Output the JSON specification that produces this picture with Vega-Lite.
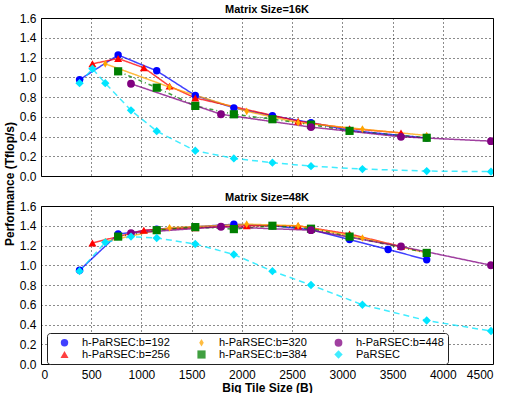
{
  "$schema": "https://vega.github.io/schema/vega-lite/v6.json",
  "padding": {"left": 3, "top": 3, "right": 0, "bottom": 0},
  "data": {"values": [
    {"p":"Matrix Size=16K","s":"h-PaRSEC:b=192","x":384,"y":0.975},
    {"p":"Matrix Size=16K","s":"h-PaRSEC:b=192","x":768,"y":1.225},
    {"p":"Matrix Size=16K","s":"h-PaRSEC:b=192","x":1152,"y":1.065},
    {"p":"Matrix Size=16K","s":"h-PaRSEC:b=192","x":1536,"y":0.815},
    {"p":"Matrix Size=16K","s":"h-PaRSEC:b=192","x":1920,"y":0.69},
    {"p":"Matrix Size=16K","s":"h-PaRSEC:b=192","x":2304,"y":0.61},
    {"p":"Matrix Size=16K","s":"h-PaRSEC:b=192","x":2688,"y":0.54},
    {"p":"Matrix Size=16K","s":"h-PaRSEC:b=192","x":3072,"y":0.462},
    {"p":"Matrix Size=16K","s":"h-PaRSEC:b=192","x":3840,"y":0.385},
    {"p":"Matrix Size=16K","s":"h-PaRSEC:b=256","x":512,"y":1.136},
    {"p":"Matrix Size=16K","s":"h-PaRSEC:b=256","x":768,"y":1.19},
    {"p":"Matrix Size=16K","s":"h-PaRSEC:b=256","x":1024,"y":1.096},
    {"p":"Matrix Size=16K","s":"h-PaRSEC:b=256","x":1280,"y":0.91},
    {"p":"Matrix Size=16K","s":"h-PaRSEC:b=256","x":1536,"y":0.79},
    {"p":"Matrix Size=16K","s":"h-PaRSEC:b=256","x":2560,"y":0.555},
    {"p":"Matrix Size=16K","s":"h-PaRSEC:b=256","x":3072,"y":0.48},
    {"p":"Matrix Size=16K","s":"h-PaRSEC:b=256","x":3584,"y":0.437},
    {"p":"Matrix Size=16K","s":"h-PaRSEC:b=320","x":640,"y":1.136},
    {"p":"Matrix Size=16K","s":"h-PaRSEC:b=320","x":1280,"y":0.9},
    {"p":"Matrix Size=16K","s":"h-PaRSEC:b=320","x":2048,"y":0.655},
    {"p":"Matrix Size=16K","s":"h-PaRSEC:b=320","x":2560,"y":0.54},
    {"p":"Matrix Size=16K","s":"h-PaRSEC:b=320","x":3200,"y":0.475},
    {"p":"Matrix Size=16K","s":"h-PaRSEC:b=320","x":3840,"y":0.41},
    {"p":"Matrix Size=16K","s":"h-PaRSEC:b=384","x":768,"y":1.06},
    {"p":"Matrix Size=16K","s":"h-PaRSEC:b=384","x":1152,"y":0.894},
    {"p":"Matrix Size=16K","s":"h-PaRSEC:b=384","x":1536,"y":0.71},
    {"p":"Matrix Size=16K","s":"h-PaRSEC:b=384","x":1920,"y":0.625},
    {"p":"Matrix Size=16K","s":"h-PaRSEC:b=384","x":2304,"y":0.575},
    {"p":"Matrix Size=16K","s":"h-PaRSEC:b=384","x":2688,"y":0.52},
    {"p":"Matrix Size=16K","s":"h-PaRSEC:b=384","x":3072,"y":0.457},
    {"p":"Matrix Size=16K","s":"h-PaRSEC:b=384","x":3840,"y":0.387},
    {"p":"Matrix Size=16K","s":"h-PaRSEC:b=448","x":896,"y":0.934},
    {"p":"Matrix Size=16K","s":"h-PaRSEC:b=448","x":1792,"y":0.625},
    {"p":"Matrix Size=16K","s":"h-PaRSEC:b=448","x":2688,"y":0.495},
    {"p":"Matrix Size=16K","s":"h-PaRSEC:b=448","x":3584,"y":0.397},
    {"p":"Matrix Size=16K","s":"h-PaRSEC:b=448","x":4480,"y":0.353},
    {"p":"Matrix Size=16K","s":"PaRSEC","x":384,"y":0.94},
    {"p":"Matrix Size=16K","s":"PaRSEC","x":512,"y":1.086},
    {"p":"Matrix Size=16K","s":"PaRSEC","x":640,"y":0.94},
    {"p":"Matrix Size=16K","s":"PaRSEC","x":896,"y":0.665},
    {"p":"Matrix Size=16K","s":"PaRSEC","x":1152,"y":0.454},
    {"p":"Matrix Size=16K","s":"PaRSEC","x":1536,"y":0.256},
    {"p":"Matrix Size=16K","s":"PaRSEC","x":1920,"y":0.178},
    {"p":"Matrix Size=16K","s":"PaRSEC","x":2304,"y":0.135},
    {"p":"Matrix Size=16K","s":"PaRSEC","x":2688,"y":0.1},
    {"p":"Matrix Size=16K","s":"PaRSEC","x":3200,"y":0.07},
    {"p":"Matrix Size=16K","s":"PaRSEC","x":3840,"y":0.05},
    {"p":"Matrix Size=16K","s":"PaRSEC","x":4480,"y":0.044},
    {"p":"Matrix Size=48K","s":"h-PaRSEC:b=192","x":384,"y":0.949},
    {"p":"Matrix Size=48K","s":"h-PaRSEC:b=192","x":768,"y":1.316},
    {"p":"Matrix Size=48K","s":"h-PaRSEC:b=192","x":1152,"y":1.366},
    {"p":"Matrix Size=48K","s":"h-PaRSEC:b=192","x":1536,"y":1.39},
    {"p":"Matrix Size=48K","s":"h-PaRSEC:b=192","x":1920,"y":1.415},
    {"p":"Matrix Size=48K","s":"h-PaRSEC:b=192","x":2304,"y":1.4},
    {"p":"Matrix Size=48K","s":"h-PaRSEC:b=192","x":2688,"y":1.36},
    {"p":"Matrix Size=48K","s":"h-PaRSEC:b=192","x":3072,"y":1.26},
    {"p":"Matrix Size=48K","s":"h-PaRSEC:b=192","x":3456,"y":1.16},
    {"p":"Matrix Size=48K","s":"h-PaRSEC:b=192","x":3840,"y":1.055},
    {"p":"Matrix Size=48K","s":"h-PaRSEC:b=256","x":512,"y":1.226},
    {"p":"Matrix Size=48K","s":"h-PaRSEC:b=256","x":1024,"y":1.355},
    {"p":"Matrix Size=48K","s":"h-PaRSEC:b=256","x":1536,"y":1.38},
    {"p":"Matrix Size=48K","s":"h-PaRSEC:b=256","x":2048,"y":1.4},
    {"p":"Matrix Size=48K","s":"h-PaRSEC:b=256","x":2560,"y":1.4},
    {"p":"Matrix Size=48K","s":"h-PaRSEC:b=256","x":3072,"y":1.316},
    {"p":"Matrix Size=48K","s":"h-PaRSEC:b=256","x":3584,"y":1.19},
    {"p":"Matrix Size=48K","s":"h-PaRSEC:b=320","x":640,"y":1.24},
    {"p":"Matrix Size=48K","s":"h-PaRSEC:b=320","x":1280,"y":1.38},
    {"p":"Matrix Size=48K","s":"h-PaRSEC:b=320","x":2048,"y":1.416},
    {"p":"Matrix Size=48K","s":"h-PaRSEC:b=320","x":2560,"y":1.4},
    {"p":"Matrix Size=48K","s":"h-PaRSEC:b=320","x":3200,"y":1.276},
    {"p":"Matrix Size=48K","s":"h-PaRSEC:b=320","x":3840,"y":1.125},
    {"p":"Matrix Size=48K","s":"h-PaRSEC:b=384","x":768,"y":1.29},
    {"p":"Matrix Size=48K","s":"h-PaRSEC:b=384","x":1152,"y":1.355},
    {"p":"Matrix Size=48K","s":"h-PaRSEC:b=384","x":1536,"y":1.386},
    {"p":"Matrix Size=48K","s":"h-PaRSEC:b=384","x":1920,"y":1.366},
    {"p":"Matrix Size=48K","s":"h-PaRSEC:b=384","x":2304,"y":1.4},
    {"p":"Matrix Size=48K","s":"h-PaRSEC:b=384","x":2688,"y":1.37},
    {"p":"Matrix Size=48K","s":"h-PaRSEC:b=384","x":3072,"y":1.29},
    {"p":"Matrix Size=48K","s":"h-PaRSEC:b=384","x":3840,"y":1.125},
    {"p":"Matrix Size=48K","s":"h-PaRSEC:b=448","x":896,"y":1.326},
    {"p":"Matrix Size=48K","s":"h-PaRSEC:b=448","x":1792,"y":1.39},
    {"p":"Matrix Size=48K","s":"h-PaRSEC:b=448","x":2688,"y":1.355},
    {"p":"Matrix Size=48K","s":"h-PaRSEC:b=448","x":3584,"y":1.19},
    {"p":"Matrix Size=48K","s":"h-PaRSEC:b=448","x":4480,"y":1.0},
    {"p":"Matrix Size=48K","s":"PaRSEC","x":384,"y":0.94},
    {"p":"Matrix Size=48K","s":"PaRSEC","x":640,"y":1.232},
    {"p":"Matrix Size=48K","s":"PaRSEC","x":896,"y":1.29},
    {"p":"Matrix Size=48K","s":"PaRSEC","x":1152,"y":1.276},
    {"p":"Matrix Size=48K","s":"PaRSEC","x":1536,"y":1.215},
    {"p":"Matrix Size=48K","s":"PaRSEC","x":1920,"y":1.109},
    {"p":"Matrix Size=48K","s":"PaRSEC","x":2304,"y":0.94},
    {"p":"Matrix Size=48K","s":"PaRSEC","x":2688,"y":0.8},
    {"p":"Matrix Size=48K","s":"PaRSEC","x":3200,"y":0.6},
    {"p":"Matrix Size=48K","s":"PaRSEC","x":3840,"y":0.44},
    {"p":"Matrix Size=48K","s":"PaRSEC","x":4480,"y":0.334}
  ]},
  "facet": {
    "row": {
      "field": "p", "type": "nominal",
      "sort": ["Matrix Size=16K", "Matrix Size=48K"],
      "header": {
        "labelOrient": "top", "labelAngle": 0, "labelAnchor": "middle",
        "labelFont": "Liberation Sans", "labelFontWeight": "bold", "labelFontSize": 11, "labelPadding": -8,
        "title": "Performance (Tflop/s)", "titleOrient": "left", "titleAngle": -90,
        "titleFont": "Liberation Sans", "titleFontWeight": "bold", "titleFontSize": 12, "titlePadding": -20
      }
    }
  },
  "spacing": {"row": 14},
  "spec": {
    "width": 452,
    "height": 158,
    "encoding": {
      "x": {"field": "x", "type": "quantitative", "scale": {"domain": [0, 4500], "nice": false},
        "axis": {"values": [0,500,1000,1500,2000,2500,3000,3500,4000,4500], "format": "d", "title": "Big Tile Size (B)"}},
      "y": {"field": "y", "type": "quantitative", "scale": {"domain": [0, 1.6], "nice": false},
        "axis": {"values": [0,0.2,0.4,0.6,0.8,1.0,1.2,1.4,1.6], "format": ".1f", "title": null, "labelOverlap": false}}
    },
    "layer": [
      {
        "mark": {"type": "line", "strokeWidth": 1.5, "opacity": 0.75, "clip": true},
        "encoding": {
          "color": {"field": "s", "type": "nominal"},
          "strokeDash": {"field": "s", "type": "nominal", "legend": null,
            "scale": {
              "domain": ["h-PaRSEC:b=192","h-PaRSEC:b=320","h-PaRSEC:b=448","h-PaRSEC:b=256","h-PaRSEC:b=384","PaRSEC"],
              "range": [[1,0],[1,0],[1,0],[1,0],[4,3,1,3],[6,4]]
            }}
        }
      },
      {
        "mark": {"type": "point", "filled": true, "opacity": 1, "clip": true},
        "encoding": {
          "color": {"field": "s", "type": "nominal",
            "scale": {
              "domain": ["h-PaRSEC:b=192","h-PaRSEC:b=320","h-PaRSEC:b=448","h-PaRSEC:b=256","h-PaRSEC:b=384","PaRSEC"],
              "range": ["#0000ff","#ffa500","#800080","#ff0000","#007f00","#00e5ff"]
            },
            "legend": {
              "title": null, "orient": "none", "legendX": 6, "legendY": 315, "direction": "horizontal", "columns": 3,
              "fillColor": "white", "strokeColor": "#222222", "padding": 4, "cornerRadius": 3,
              "columnPadding": 18, "rowPadding": 0, "symbolOpacity": 1, "symbolSize": 50,
              "symbolOffset": 8, "labelOffset": 12, "symbolStrokeWidth": 0,
              "labelFont": "Liberation Sans", "labelFontSize": 11, "labelColor": "black"
            }},
          "shape": {"field": "s", "type": "nominal", "legend": null,
            "scale": {
              "domain": ["h-PaRSEC:b=192","h-PaRSEC:b=320","h-PaRSEC:b=448","h-PaRSEC:b=256","h-PaRSEC:b=384","PaRSEC"],
              "range": ["circle","M0,-1L0.6,0L0,1L-0.6,0Z","circle","triangle-up","square","diamond"]
            }},
          "size": {"field": "s", "type": "nominal", "legend": null,
            "scale": {
              "domain": ["h-PaRSEC:b=192","h-PaRSEC:b=320","h-PaRSEC:b=448","h-PaRSEC:b=256","h-PaRSEC:b=384","PaRSEC"],
              "range": [55, 70, 55, 55, 50, 80]
            }}
        }
      }
    ]
  },
  "config": {
    "view": {"stroke": "black", "strokeWidth": 1},
    "axis": {
      "grid": true, "gridColor": "black", "gridDash": [1, 3], "gridOpacity": 0.9, "gridWidth": 1,
      "domain": false, "ticks": false, "labelPadding": 4, "labelOverlap": false,
      "labelFont": "Liberation Sans", "labelFontSize": 12, "labelColor": "black",
      "titleFont": "Liberation Sans", "titleFontSize": 12, "titleFontWeight": "bold", "titleColor": "black", "titlePadding": 2
    },
    "axisY": {"labelOverlap": false},
    "axisQuantitative": {"labelOverlap": false}
  }
}
